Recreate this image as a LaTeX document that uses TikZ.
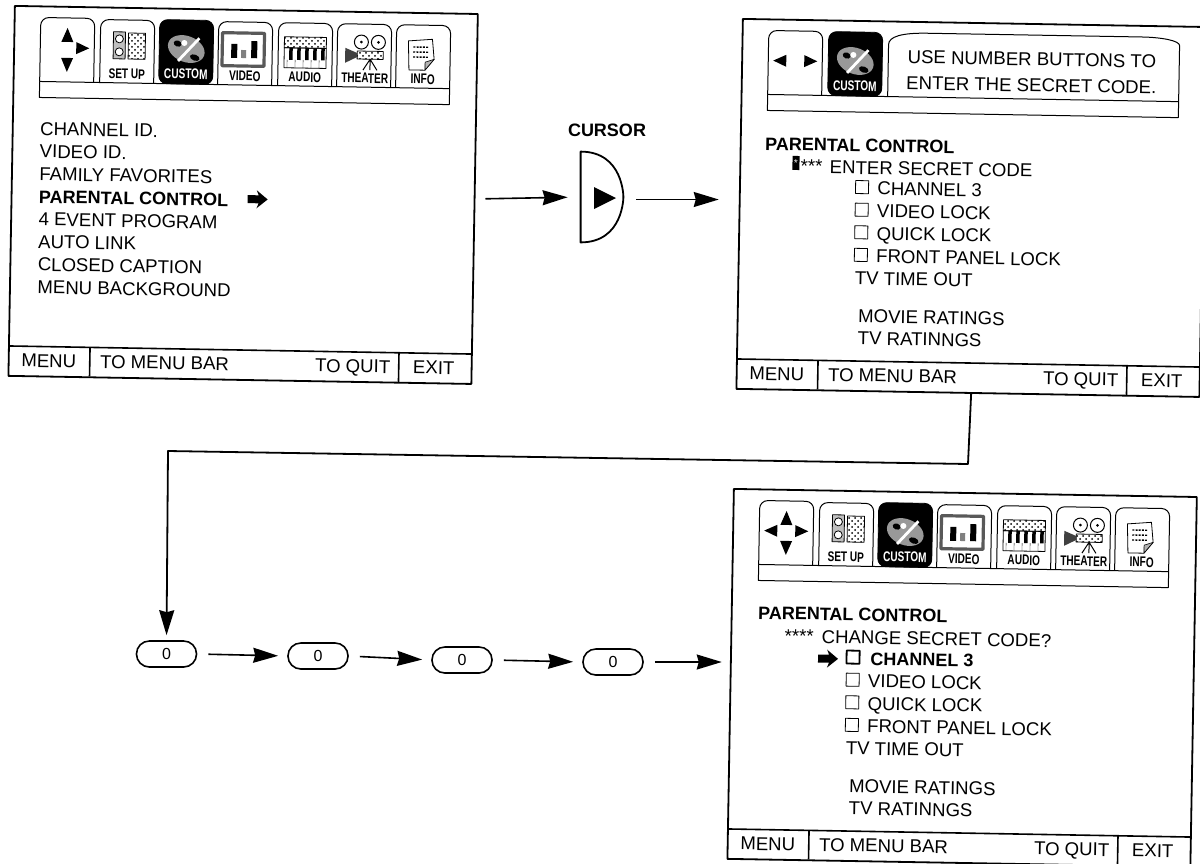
\documentclass[tikz,border=0pt]{standalone}
\usepackage{fontspec}
\setmainfont{Liberation Sans}
\usepackage{tikz}
\usetikzlibrary{arrows.meta, positioning, calc, patterns}
\newcommand{\menufont}{\fontsize{9.3}{11}\selectfont}
\newcommand{\headfont}{\fontsize{9}{11}\selectfont\bfseries}
\tikzset{
    panel/.style={draw, line width=0.9pt, fill=white, anchor=north west, inner sep=0pt, minimum width=231.5pt, minimum height=185pt},
    menuline/.style={anchor=west, inner sep=0pt, text height=6.6pt, text depth=0pt, font=\menufont},
    headline/.style={menuline, font=\headfont},
    tabedge/.style={draw, line width=0.5pt, fill=white, rounded corners=4pt},
    darktab/.style={draw, fill=black, rounded corners=4pt},
    tablabel/.style={inner sep=0pt, xscale=0.72, font=\fontsize{7}{8}\selectfont\bfseries},
    checkbox/.style={draw, line width=0.4pt, inner sep=0pt, minimum size=6.5pt},
    thickbox/.style={checkbox, line width=0.9pt},
    rule/.style={line width=0.8pt},
    arr/.style={-{Stealth[length=12.5pt, width=7.5pt, inset=1pt]}, line width=0.8pt},
    zerokey/.style={draw, line width=0.8pt, rounded corners=6.4pt, inner sep=0pt, minimum width=30pt, minimum height=13pt, font=\fontsize{8}{9}\selectfont}
}
% arrow keys, drawn inside the first tab
\newcommand{\keyup}{\fill (27,10) -- (33,24) -- (21,24) -- cycle;}
\newcommand{\keydown}{\fill (27,54) -- (33,40) -- (21,40) -- cycle;}
\newcommand{\keyleft}{\fill (5,30) -- (18,24) -- (18,36) -- cycle;}
\newcommand{\keyright}{\fill (49,30) -- (36,24) -- (36,36) -- cycle;}
\newcommand{\blockarrow}[2]{\fill[shift={(#1,#2)}] (0,-4) -- (11,-4) -- (9,-9) -- (20,0) -- (9,9) -- (11,4) -- (0,4) -- cycle;}
% one tab, with its picture
\newcommand{\plaintab}[2]{\draw[tabedge] (#1,76) -- (#1,13) -- ++(54,0) -- (#1+54,76);
    \begin{scope}[shift={(#1,13)}] #2 \end{scope}}
\newcommand{\customtab}[2]{\fill[darktab] (#1,76) -- (#1,12) -- ++(54,0) -- (#1+54,76) -- cycle;
    \begin{scope}[shift={(#1,12)}]
      \fill[black!40, rotate around={-20:(27,29)}] (27,29) ellipse [x radius=19, y radius=13];
      \fill[black, rotate around={-20:(27,29)}] (17,27) ellipse [x radius=4, y radius=3] (38,34) ellipse [x radius=5, y radius=3];
      \fill[white] (25,23) circle [radius=3];
      \draw[white, line width=1.4pt] (40,18) -- (19,41);
      \node[tablabel, text=white] (#2custom) at (27,54) {CUSTOM};
    \end{scope}}
\newcommand{\icontabs}[1]{
    \plaintab{87}{
      \draw[fill=black!25, line width=0.4pt] (13,12) rectangle (25,39);
      \draw[fill=white, line width=0.4pt] (19,19) circle [radius=4] (19,32) circle [radius=4];
      \draw[line width=0.4pt, pattern=crosshatch dots] (28,13) rectangle (45,39);
      \node[tablabel] (#1setup) at (27,54) {SET UP};}
    \customtab{146}{#1}
    \plaintab{205}{
      \draw[fill=white, draw=black!65, line width=1.6pt] (4,11) rectangle (46,44);
      \fill (13,22) rectangle (19,36) (33,19) rectangle (39,36);
      \fill[black!50] (23,28) rectangle (28,36);
      \node[tablabel] (#1video) at (27,54) {VIDEO};}
    \plaintab{265}{
      \draw[line width=0.4pt, pattern=crosshatch dots] (6,14) rectangle (48,25);
      \draw[line width=0.4pt] (6,25) rectangle (48,45);
      \foreach \k in {11,19,27,35,43} {\fill (\k,25) rectangle ++(3.5,12);}
      \foreach \k in {9,17,25,33,41} {\draw[line width=0.2pt] (\k,37) -- (\k,45);}
      \node[tablabel] (#1audio) at (27,54) {AUDIO};}
    \plaintab{324}{
      \draw[line width=0.5pt] (24,18) circle [radius=7] (41,18) circle [radius=7];
      \fill (24,18) circle [radius=1.5] (41,18) circle [radius=1.5];
      \draw[line width=0.4pt, pattern=crosshatch dots] (20,27) rectangle (46,35);
      \fill[black!75] (20,29) -- (8,24) -- (8,39) -- (20,33) -- cycle;
      \draw[line width=0.5pt] (33,35) -- (26,46) (33,35) -- (33,46) (33,35) -- (40,46);
      \node[tablabel] (#1theater) at (28,54) {THEATER};}
    \plaintab{383}{
      \draw[fill=white, line width=0.4pt] (12,16) -- (36,14) -- (38,34) -- (29,45) -- (13,45) -- cycle;
      \draw[fill=black!30, line width=0.3pt] (38,34) -- (29,37) -- (29,45) -- cycle;
      \foreach \k in {22,27,32} {\draw[line width=0.7pt, dash pattern=on 1pt off 0.6pt] (17,\k) -- (32,\k);}
      \node[tablabel] (#1info) at (27,54) {INFO};}
}
% the bottom row of a screen
\newcommand{\screenfoot}[1]{
    \draw[rule] (0,341) -- (463,341) (82,341) -- (82,370) (391,341) -- (391,370);
    \node[menuline, anchor=center] (#1menu) at (41,355) {MENU};
    \node[menuline] (#1bar) at (92,355) {TO MENU BAR};
    \node[menuline] (#1quit) at (307,355) {TO QUIT};
    \node[menuline, anchor=center] (#1exit) at (426,355) {EXIT};
}
% the lock list of the second and third screen
\newcommand{\locklist}[4]{
    \node[#2] (#1box0) at (123,167) {};
    \node[#3] (#1item0) at (#4,168) {CHANNEL 3};
    \foreach \i/\txt in {1/VIDEO LOCK, 2/QUICK LOCK, 3/FRONT PANEL LOCK} {
      \node[checkbox] (#1box\i) at (123,{167+22.6*\i}) {};
      \node[menuline] (#1item\i) at (138,{168+22.6*\i}) {\txt};
    }
    \node[menuline] (#1timeout) at (117,258) {TV TIME OUT};
    \node[menuline] (#1movie) at (121,296) {MOVIE RATINGS};
    \node[menuline] (#1tv) at (121,318) {TV RATINNGS};
}

\begin{document}
\begin{tikzpicture}[x=0.5pt, y=-0.5pt, line join=round]
    \useasboundingbox (0,0) rectangle (1200,863);

    % first screen
    \begin{scope}[shift={(14,5)}, rotate=-1, transform shape]
      \node[panel] (scr1) at (0,0) {};
      \draw[tabedge] (27,76) -- (27,12) -- ++(54,0) -- (81,76);
      \begin{scope}[shift={(27,12)}] \keyup \keyright \keydown \end{scope}
      \icontabs{a}
      \draw[rule, line width=0.5pt] (27,76) rectangle (437,92);
      \foreach \i/\txt/\sty in {0/CHANNEL ID./menuline, 1/VIDEO ID./menuline, 2/FAMILY FAVORITES/menuline, 3/PARENTAL CONTROL/headline, 4/4 EVENT PROGRAM/menuline, 5/AUTO LINK/menuline, 6/CLOSED CAPTION/menuline, 7/MENU BACKGROUND/menuline} {
        \node[\sty] (menu\i) at (28,{123+22.65*\i}) {\txt};
      }
      \blockarrow{237}{190}
      \screenfoot{a}
    \end{scope}

    % second screen
    \begin{scope}[shift={(742,18)}, rotate=-1, transform shape]
      \node[panel] (scr2) at (0,0) {};
      \draw[tabedge] (27,76) -- (27,12) -- ++(54,0) -- (81,76);
      \begin{scope}[shift={(27,12)}] \keyleft \keyright \end{scope}
      \customtab{87}{b}
      \draw[line width=0.5pt, fill=white] (147,76) -- (147,24) .. controls (147,16) and (160,12) .. (185,12) -- (400,12) .. controls (420,12) and (438,15) .. (438,20) -- (438,76);
      \node[menuline] (usekeys) at (166,36) {USE NUMBER BUTTONS TO};
      \node[menuline] (entercode) at (165,62) {ENTER THE SECRET CODE.};
      \draw[rule, line width=0.5pt] (27,76) rectangle (438,92);
      \node[headline] (head2) at (25,125) {PARENTAL CONTROL};
      \node[fill=black, text=white, inner sep=0pt, minimum width=3.5pt, minimum height=7pt, font=\fontsize{5}{5}\selectfont] (digit) at (56.5,144) {*};
      \node[menuline] (stars2) at (61,147) {***};
      \node[menuline] (enter) at (90,147.5) {ENTER SECRET CODE};
      \locklist{b}{checkbox}{menuline}{138}
      \screenfoot{b}
    \end{scope}

    % third screen
    \begin{scope}[shift={(733,488)}, rotate=-1, transform shape]
      \node[panel] (scr3) at (0,0) {};
      \draw[tabedge] (27,76) -- (27,12) -- ++(54,0) -- (81,76);
      \begin{scope}[shift={(27,12)}] \keyup \keyleft \keyright \keydown \end{scope}
      \icontabs{c}
      \draw[rule, line width=0.5pt] (27,76) rectangle (437,92);
      \node[headline] (head3) at (27,124) {PARENTAL CONTROL};
      \node[menuline] (stars3) at (54,147) {****};
      \node[menuline] (change) at (91,147) {CHANGE SECRET CODE?};
      \blockarrow{88}{169}
      \locklist{c}{thickbox}{headline}{140}
      \screenfoot{c}
    \end{scope}

    % cursor button
    \node[inner sep=0pt, minimum width=21pt, minimum height=45pt] (cursor) at (602,197) {};
    \draw[line width=0.9pt] (cursor.north west) .. controls (cursor.north east) and (cursor.east) .. (cursor.east) .. controls (cursor.east) and (cursor.south east) .. (cursor.south west) -- cycle;
    \fill (594,187) -- (616,198) -- (594,209) -- cycle;
    \node[menuline, anchor=center, font=\fontsize{9}{10}\selectfont\bfseries] (cursorname) at (607,130) {CURSOR};

    \node[zerokey] (zero1) at (166.5,654) {0};
    \node[zerokey] (zero2) at (318,656) {0};
    \node[zerokey] (zero3) at (462,660) {0};
    \node[zerokey] (zero4) at (613,662) {0};

    \coordinate (bendright) at (968,464);
    \coordinate (bendleft) at (168,451);

    \draw[arr, shorten <=5pt, shorten >=6.5pt] (scr1.east) -- (cursor.west);
    \draw[arr, shorten <=6.5pt, shorten >=10pt] ([yshift=-1.25pt]cursor.east) -- ([yshift=-1.25pt]cursor.east -| scr2.west);
    \draw[line width=0.9pt, -{Stealth[length=12.5pt, width=7.5pt, inset=1pt]}, shorten >=2.5pt] ($(scr2.south west)!0.507!(scr2.south east)$) -- (bendright) -- (bendleft) -- (zero1.north);
    \foreach \a/\b in {zero1/zero2, zero2/zero3, zero3/zero4} {
      \draw[arr, shorten <=5.5pt, shorten >=4.5pt] (\a.east) -- (\b.west);
    }
    \draw[arr, shorten <=5.5pt, shorten >=4pt] (zero4.east) -- (zero4.east -| scr3.west);
\end{tikzpicture}
\end{document}
